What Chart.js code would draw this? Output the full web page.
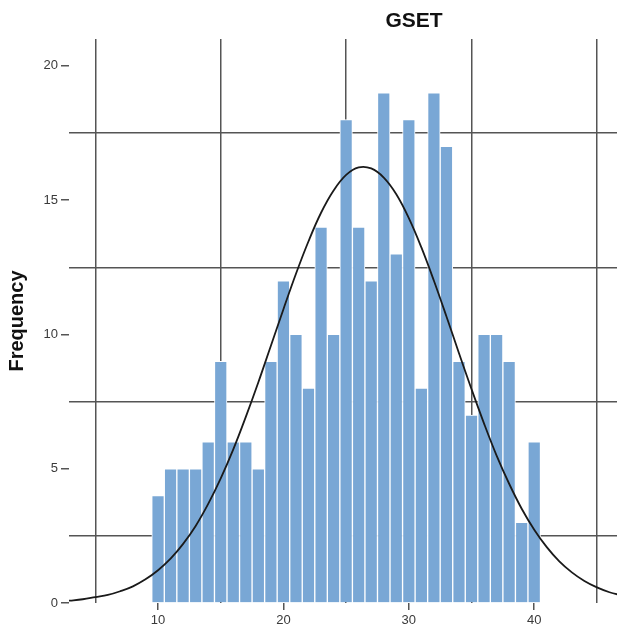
<!DOCTYPE html>
<html>
<head>
<meta charset="utf-8">
<title>GSET</title>
<script src="https://cdn.jsdelivr.net/npm/chart.js@4.4.1/dist/chart.umd.min.js"></script>
<style>
  html, body { margin: 0; padding: 0; background: #fff; overflow: hidden; }
  #chart { display: block; }
</style>
</head>
<body>
<canvas id="chart" width="617" height="634"></canvas>
<script>
// Histogram of GSET scores, bins of width 1 centred on the integers
const binCenters = [10, 11, 12, 13, 14, 15, 16, 17, 18, 19, 20, 21, 22, 23, 24, 25,
  26, 27, 28, 29, 30, 31, 32, 33, 34, 35, 36, 37, 38, 39, 40];
const frequencies = [4, 5, 5, 5, 6, 9, 6, 6, 5, 9, 12, 10, 8, 14, 10, 18,
  14, 12, 19, 13, 18, 8, 19, 17, 9, 7, 10, 10, 9, 3, 6];

// Normal curve
const curveX = [2, 3, 4, 5, 6, 7, 8, 9, 10, 11, 12, 13, 14, 15, 16, 17, 18, 19, 20, 21, 22, 23, 24,
  25, 26, 27, 28, 29, 30, 31, 32, 33, 34, 35, 36, 37, 38, 39, 40, 41, 42, 43, 44, 45, 46, 47];
const curveY = [0.05, 0.09, 0.14, 0.22, 0.3, 0.44, 0.62, 0.88, 1.22, 1.65, 2.2, 2.87, 3.69, 4.64, 5.72, 6.93,
  8.22, 9.58, 10.94, 12.26, 13.47, 14.53, 15.36, 15.94, 16.22, 16.18, 15.84, 15.22, 14.33, 13.24,
  12.0, 10.67, 9.3, 7.96, 6.68, 5.49, 4.44, 3.51, 2.73, 2.08, 1.55, 1.14, 0.82, 0.58, 0.4, 0.28];

// Tick positions: labels on the whole fives / tens, grid lines half way between
const xTicks = [5, 10, 15, 20, 25, 30, 35, 40, 45];
const yTicks = [0, 2.5, 5, 7.5, 10, 12.5, 15, 17.5, 20];

const GRID = "#555555";
const LABEL = "#3a3a3a";

Chart.defaults.font.family = "'Liberation Sans', Arial, sans-serif";

// Title sits off centre because the original plot runs past the right edge
const titlePlugin = {
  id: "gsetTitle",
  afterDraw(chart) {
    const ctx = chart.ctx;
    ctx.save();
    ctx.font = "bold 21px 'Liberation Sans', Arial, sans-serif";
    ctx.fillStyle = "#111";
    ctx.textAlign = "center";
    ctx.textBaseline = "middle";
    ctx.fillText("GSET", 414, 21);
    ctx.restore();
  }
};

new Chart(document.getElementById("chart"), {
  data: {
    datasets: [
      {
        type: "line",
        data: curveX.map((x, i) => ({ x: x, y: curveY[i] })),
        borderColor: "#1a1a1a",
        borderWidth: 1.8,
        pointRadius: 0,
        tension: 0.4,
        fill: false,
        order: 0
      },
      {
        type: "bar",
        data: binCenters.map((x, i) => ({ x: x, y: frequencies[i] })),
        backgroundColor: "#79a7d5",
        borderColor: "#ffffff",
        borderWidth: 1,
        barPercentage: 1,
        categoryPercentage: 1,
        order: 1
      }
    ]
  },
  options: {
    responsive: false,
    animation: false,
    layout: { padding: { top: 39, right: 0, left: 0, bottom: 0 } },
    plugins: {
      legend: { display: false },
      tooltip: { enabled: false }
    },
    scales: {
      x: {
        type: "linear",
        min: 2.9,
        max: 46.6,
        offset: false,
        afterBuildTicks: axis => { axis.ticks = xTicks.map(v => ({ value: v })); },
        afterFit: axis => { axis.height = 31; },
        border: { display: false },
        grid: {
          offset: false,
          color: c => (c.tick && c.tick.value % 10 !== 0 ? GRID : "rgba(0,0,0,0)"),
          tickColor: c => (c.tick && c.tick.value % 10 === 0 ? GRID : "rgba(0,0,0,0)"),
          lineWidth: 1.5,
          tickLength: 7,
          tickWidth: 1.5
        },
        ticks: {
          color: LABEL,
          font: { size: 13 },
          padding: 3,
          maxRotation: 0,
          autoSkip: false,
          callback: v => (v % 10 === 0 ? v : "")
        }
      },
      y: {
        min: 0,
        max: 21,
        afterBuildTicks: axis => { axis.ticks = yTicks.map(v => ({ value: v })); },
        afterFit: axis => { axis.width = 69; },
        border: { display: false },
        grid: {
          color: c => (c.tick && c.tick.value % 5 !== 0 ? GRID : "rgba(0,0,0,0)"),
          tickColor: c => (c.tick && c.tick.value % 5 === 0 ? GRID : "rgba(0,0,0,0)"),
          lineWidth: 1.5,
          tickLength: 8,
          tickWidth: 1.5
        },
        ticks: {
          color: LABEL,
          font: { size: 13 },
          padding: 3,
          autoSkip: false,
          callback: v => (v % 5 === 0 ? v : "")
        },
        title: {
          display: true,
          text: "Frequency",
          color: "#111",
          font: { size: 20, weight: "bold" },
          padding: { top: 5, bottom: 0 }
        }
      }
    }
  },
  plugins: [titlePlugin]
});
</script>
</body>
</html>
